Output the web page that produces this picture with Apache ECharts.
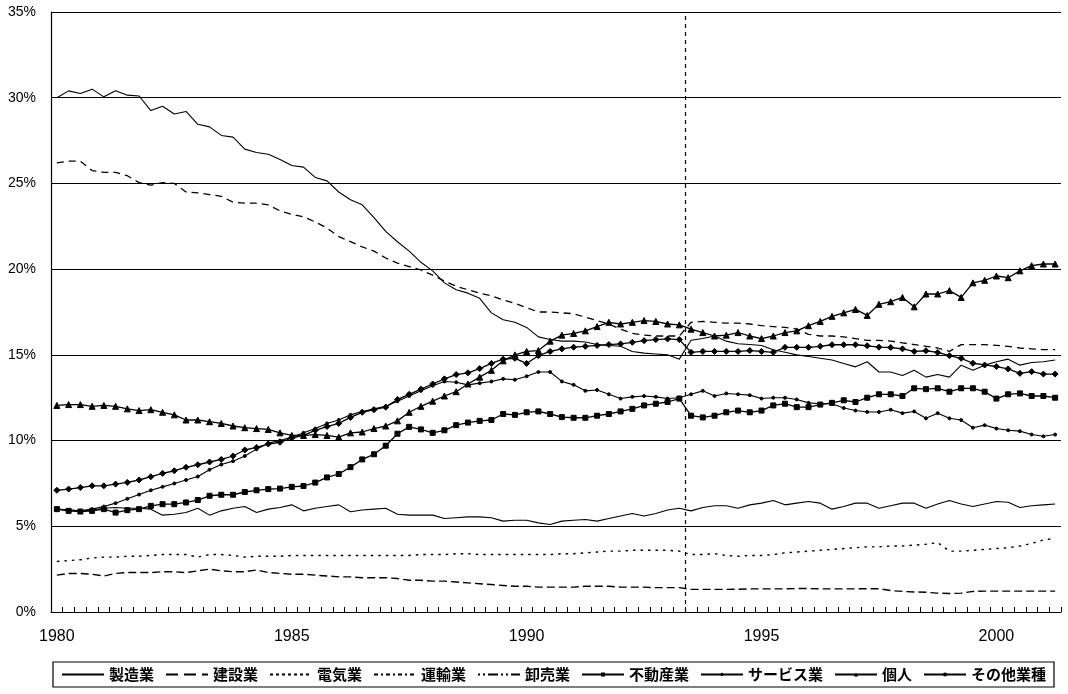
<!DOCTYPE html>
<html><head><meta charset="utf-8">
<script src="https://cdn.jsdelivr.net/npm/echarts@6/dist/echarts.min.js"></script>
<style>html,body{margin:0;padding:0;background:#fff}#c{width:1068px;height:694px}</style>
</head><body><div id="c"></div>
<script>
// Quarterly categories 1980Q1 .. 2001Q2
const categories = [];
for (let y = 1980; y <= 2001; y++) for (let q = 1; q <= 4; q++) if (categories.length < 86) categories.push(y + '/' + q);
const tickYears = ['1980', '1985', '1990', '1995', '2000'];
const breakAt = 54; // statistical break between 1993Q2 and 1993Q3

const manufacturing = [30.0,30.4,30.25,30.5,30.05,30.4,30.15,30.1,29.25,29.5,29.05,29.2,28.45,28.3,27.8,27.7,27.0,26.8,26.7,26.4,26.05,25.95,25.35,25.15,24.5,24.05,23.75,23.0,22.2,21.6,21.05,20.4,19.9,19.2,18.8,18.6,18.3,17.45,17.05,16.9,16.6,16.05,15.9,15.8,15.8,15.75,15.6,15.55,15.5,15.2,15.1,15.05,15.0,14.75,15.85,15.95,16.1,15.8,15.65,15.6,15.55,15.3,15.15,15.0,14.9,14.8,14.7,14.5,14.3,14.6,14.0,14.0,13.8,14.1,13.7,13.85,13.7,14.4,14.1,14.4,14.6,14.75,14.4,14.55,14.6,14.7];
const construction = [6.0,5.95,5.9,5.95,6.05,6.1,6.05,6.05,6.0,5.65,5.7,5.8,6.05,5.65,5.9,6.05,6.15,5.8,6.0,6.1,6.25,5.9,6.05,6.15,6.25,5.85,5.95,6.0,6.05,5.7,5.65,5.65,5.65,5.45,5.5,5.55,5.55,5.5,5.3,5.35,5.35,5.2,5.1,5.3,5.35,5.4,5.3,5.45,5.6,5.75,5.6,5.75,5.95,6.05,5.9,6.1,6.2,6.2,6.05,6.25,6.35,6.5,6.25,6.35,6.45,6.35,6.0,6.15,6.35,6.35,6.05,6.2,6.35,6.35,6.05,6.3,6.5,6.3,6.15,6.3,6.45,6.4,6.1,6.2,6.25,6.3];
const electricity = [2.95,3.0,3.05,3.15,3.2,3.2,3.25,3.25,3.3,3.35,3.35,3.35,3.2,3.35,3.35,3.3,3.2,3.25,3.25,3.25,3.3,3.3,3.3,3.3,3.3,3.3,3.3,3.3,3.3,3.3,3.3,3.35,3.35,3.35,3.4,3.4,3.35,3.35,3.35,3.35,3.35,3.35,3.35,3.4,3.4,3.45,3.5,3.55,3.55,3.6,3.6,3.6,3.6,3.55,3.35,3.35,3.4,3.3,3.25,3.3,3.3,3.35,3.45,3.5,3.55,3.6,3.65,3.7,3.75,3.8,3.8,3.85,3.85,3.9,3.95,4.05,3.55,3.55,3.6,3.65,3.7,3.75,3.85,4.0,4.2,4.3];
const transport = [2.15,2.25,2.25,2.2,2.1,2.25,2.3,2.3,2.3,2.35,2.35,2.3,2.4,2.5,2.4,2.35,2.35,2.45,2.3,2.25,2.2,2.2,2.15,2.1,2.05,2.05,2.0,2.0,2.0,1.95,1.85,1.85,1.8,1.8,1.75,1.7,1.65,1.6,1.55,1.5,1.5,1.45,1.45,1.45,1.45,1.5,1.5,1.5,1.45,1.45,1.45,1.42,1.42,1.42,1.32,1.32,1.32,1.32,1.33,1.35,1.35,1.35,1.35,1.37,1.37,1.35,1.35,1.35,1.35,1.36,1.36,1.25,1.2,1.17,1.15,1.1,1.08,1.1,1.2,1.22,1.22,1.22,1.22,1.22,1.22,1.22];
const wholesale = [26.2,26.3,26.3,25.75,25.65,25.65,25.45,25.05,24.9,25.05,25.0,24.5,24.45,24.35,24.25,23.9,23.85,23.85,23.75,23.4,23.2,23.05,22.75,22.4,21.9,21.6,21.3,21.05,20.65,20.35,20.15,19.95,19.65,19.3,19.0,18.8,18.6,18.45,18.2,18.0,17.75,17.5,17.5,17.45,17.4,17.2,17.0,16.8,16.5,16.25,16.15,16.1,16.1,16.1,16.9,16.95,16.9,16.85,16.85,16.8,16.7,16.65,16.6,16.5,16.2,16.1,16.1,16.05,15.95,15.85,15.85,15.8,15.7,15.6,15.5,15.4,15.2,15.6,15.6,15.6,15.55,15.5,15.4,15.35,15.3,15.3];
const realEstate = [6.0,5.9,5.86,5.9,6.0,5.8,5.94,6.0,6.19,6.29,6.29,6.39,6.53,6.78,6.84,6.84,7.0,7.1,7.17,7.2,7.3,7.35,7.55,7.85,8.05,8.45,8.9,9.2,9.7,10.4,10.8,10.65,10.45,10.6,10.9,11.05,11.15,11.2,11.55,11.5,11.65,11.7,11.55,11.37,11.33,11.33,11.45,11.55,11.7,11.85,12.05,12.15,12.25,12.45,11.45,11.35,11.45,11.65,11.75,11.65,11.75,12.05,12.15,11.95,11.95,12.1,12.2,12.35,12.25,12.5,12.7,12.7,12.6,13.05,13.0,13.05,12.85,13.05,13.05,12.85,12.45,12.7,12.75,12.6,12.6,12.5];
const services = [7.1,7.17,7.26,7.36,7.36,7.46,7.56,7.7,7.89,8.09,8.24,8.44,8.59,8.75,8.9,9.1,9.45,9.6,9.8,9.9,10.15,10.3,10.6,10.82,11.0,11.35,11.65,11.8,11.95,12.4,12.7,13.0,13.3,13.6,13.85,13.95,14.2,14.5,14.75,14.8,14.5,14.95,15.2,15.35,15.45,15.5,15.55,15.6,15.64,15.73,15.83,15.89,15.93,15.89,15.15,15.2,15.2,15.2,15.2,15.25,15.2,15.15,15.44,15.44,15.44,15.5,15.59,15.59,15.59,15.53,15.45,15.43,15.35,15.2,15.24,15.14,14.95,14.8,14.51,14.41,14.32,14.18,13.92,14.02,13.88,13.88];
const individuals = [12.05,12.1,12.1,12.0,12.05,12.0,11.85,11.75,11.8,11.65,11.5,11.2,11.2,11.1,11.0,10.85,10.75,10.7,10.65,10.45,10.3,10.3,10.35,10.3,10.2,10.45,10.5,10.7,10.85,11.15,11.65,12.0,12.3,12.6,12.85,13.3,13.7,14.1,14.65,15.0,15.2,15.25,15.8,16.15,16.25,16.4,16.65,16.9,16.8,16.9,17.0,16.95,16.8,16.75,16.5,16.3,16.1,16.15,16.3,16.1,15.95,16.1,16.3,16.4,16.7,16.95,17.25,17.45,17.65,17.3,17.95,18.1,18.35,17.8,18.55,18.55,18.75,18.35,19.2,19.35,19.6,19.5,19.9,20.2,20.3,20.3];
const others = [6.0,5.95,5.9,6.0,6.15,6.35,6.6,6.85,7.1,7.3,7.5,7.7,7.9,8.3,8.6,8.8,9.1,9.5,9.85,10.0,10.2,10.45,10.7,11.0,11.2,11.5,11.7,11.85,12.0,12.3,12.6,12.9,13.2,13.45,13.4,13.25,13.35,13.45,13.6,13.55,13.75,14.0,14.0,13.45,13.25,12.9,12.95,12.7,12.45,12.55,12.6,12.55,12.45,12.5,12.7,12.9,12.6,12.75,12.7,12.65,12.45,12.5,12.5,12.4,12.2,12.15,12.15,11.9,11.75,11.67,11.67,11.8,11.6,11.7,11.3,11.6,11.3,11.2,10.75,10.9,10.7,10.6,10.55,10.35,10.25,10.35];

const names = ['製造業','建設業','電気業','運輸業','卸売業','不動産業','サービス業','個人','その他業種'];

const chart = echarts.init(document.getElementById('c'), null, {renderer: 'canvas'});
function lineSeries(name, data, lineType, symbol, symbolSize, width) {
  return {
    name: name, type: 'line', data: data,
    xAxisIndex: 0, yAxisIndex: 0,
    symbol: symbol || 'none', symbolSize: symbolSize || 0,
    showSymbol: !!symbol, showAllSymbol: true,
    lineStyle: {color: '#000', width: width || 1.1, type: lineType || 'solid'},
    itemStyle: {color: '#000', borderColor: '#000'},
    emphasis: {disabled: true}, animation: false
  };
}
const series = [
  lineSeries(names[0], manufacturing, 'solid', null, 0, 1.1),
  lineSeries(names[1], construction, 'solid', null, 0, 1.1),
  lineSeries(names[2], electricity, [2.5, 5], null, 0, 1.4),
  lineSeries(names[3], transport, [8, 4], null, 0, 1.4),
  lineSeries(names[4], wholesale, [7, 5], null, 0, 1.3),
  lineSeries(names[5], realEstate, 'solid', 'rect', 5, 1.3),
  lineSeries(names[6], services, 'solid', 'diamond', 6, 1.3),
  lineSeries(names[7], individuals, 'solid', 'triangle', 6, 1.3),
  lineSeries(names[8], others, 'solid', 'circle', 3, 1.1),
  {
    type: 'line', xAxisIndex: 1, yAxisIndex: 0, data: [], silent: true, animation: false,
    markLine: {
      silent: true, symbol: ['none', 'none'], label: {show: false},
      lineStyle: {color: '#000', type: [4, 4], width: 1.2},
      data: [{xAxis: breakAt}]
    }
  }
];

const hide = {opacity: 0};
const legendStyles = [
  {itemStyle: hide},
  {itemStyle: hide, lineStyle: {type: [12, 6]}},
  {itemStyle: hide, lineStyle: {type: [3, 3]}},
  {itemStyle: hide, lineStyle: {type: [4, 3, 2, 3]}},
  {itemStyle: hide, lineStyle: {type: [2, 3, 2, 3, 10, 3]}},
  {}, {}, {}, {}
];

chart.setOption({
  animation: false,
  backgroundColor: '#fff',
  textStyle: {fontFamily: 'Liberation Sans, Arial, sans-serif', color: '#000'},
  grid: {left: 51, right: 7, top: 12, bottom: 82, containLabel: false},
  legend: {
    left: 53, top: 662, width: 1012,
    data: names.map((n, i) => Object.assign({name: n}, legendStyles[i])),
    itemWidth: 42, itemHeight: 5, itemGap: 11,
    padding: [5, 8],
    borderColor: '#000', borderWidth: 1.2,
    textStyle: {fontFamily: 'Noto Sans CJK JP', fontSize: 15, fontWeight: 'bold', color: '#000'},
    selectedMode: false
  },
  xAxis: [
    {
      type: 'category', data: categories, boundaryGap: true,
      axisLine: {lineStyle: {color: '#000', width: 1.2}},
      axisTick: {show: true, inside: true, length: 5, interval: 0, lineStyle: {color: '#000'}},
      axisLabel: {
        interval: (i) => tickYears.indexOf(categories[i].slice(0, 4)) >= 0 && categories[i].endsWith('/1'),
        formatter: (v) => v.slice(0, 4),
        fontSize: 16, color: '#000', margin: 17, fontFamily: 'Liberation Sans'
      },
      splitLine: {show: false}
    },
    {type: 'value', min: 0, max: categories.length, show: false}
  ],
  yAxis: {
    type: 'value', min: 0, max: 35, interval: 5,
    axisLine: {show: true, lineStyle: {color: '#000', width: 1.2}},
    axisTick: {show: false},
    axisLabel: {formatter: '{value}%', fontSize: 14, color: '#000', margin: 15, fontFamily: 'Liberation Sans'},
    splitLine: {show: true, lineStyle: {color: '#000', width: 1.2}}
  },
  series: series
});
</script></body></html>
